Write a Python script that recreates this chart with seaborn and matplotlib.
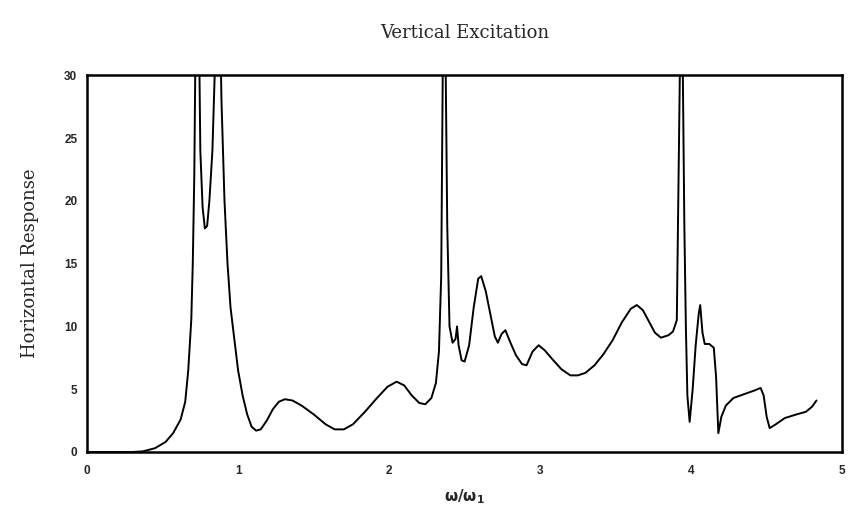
import numpy as np
import pandas as pd
import seaborn as sns
import matplotlib.pyplot as plt

# frequency ratio (omega / omega_1)
freq_ratio = [
    0.00, 0.30, 0.37, 0.45, 0.52, 0.57, 0.62, 0.65, 0.67, 0.69,
    0.70, 0.71, 0.72, 0.735, 0.75, 0.765, 0.78, 0.795, 0.81, 0.83,
    0.845, 0.86, 0.88, 0.89, 0.91, 0.93, 0.95, 0.97, 1.00, 1.03,
    1.06, 1.09, 1.12, 1.15, 1.19, 1.23, 1.27, 1.31, 1.36, 1.42,
    1.50, 1.58, 1.64, 1.70, 1.76, 1.84, 1.92, 1.99, 2.05, 2.10,
    2.15, 2.20, 2.24, 2.28, 2.31, 2.33, 2.345, 2.355, 2.365, 2.375,
    2.385, 2.40, 2.42, 2.44, 2.45, 2.46, 2.48, 2.50, 2.53, 2.56,
    2.59, 2.61, 2.64, 2.67, 2.70, 2.72, 2.745, 2.77, 2.80, 2.84,
    2.88, 2.91, 2.95, 2.99, 3.03, 3.08, 3.14, 3.20, 3.25, 3.30,
    3.36, 3.42, 3.48, 3.54, 3.60, 3.64, 3.68, 3.72, 3.76, 3.80,
    3.85, 3.88, 3.905, 3.915, 3.925, 3.935, 3.945, 3.955, 3.965, 3.975,
    3.99, 4.01, 4.03, 4.05, 4.06, 4.075, 4.09, 4.12, 4.15, 4.165,
    4.18, 4.20, 4.23, 4.28, 4.35, 4.42, 4.46, 4.48, 4.50, 4.52,
    4.56, 4.62, 4.70, 4.76, 4.80, 4.83,
]

# horizontal response amplitude (peaks run off the top of the axes)
response = [
    0.0, 0.0, 0.05, 0.3, 0.8, 1.5, 2.6, 4.0, 6.5, 10.5,
    15.0, 22.0, 35.0, 40.0, 24.0, 19.5, 17.8, 18.0, 20.0, 24.0,
    30.0, 40.0, 35.0, 28.0, 20.0, 15.0, 11.5, 9.5, 6.5, 4.5,
    3.0, 2.0, 1.7, 1.8, 2.5, 3.4, 4.0, 4.2, 4.1, 3.7,
    3.0, 2.2, 1.8, 1.8, 2.2, 3.2, 4.3, 5.2, 5.6, 5.3,
    4.5, 3.9, 3.8, 4.3, 5.5, 8.0, 14.0, 30.0, 40.0, 30.0,
    18.0, 10.0, 8.7, 9.0, 10.0, 8.5, 7.3, 7.2, 8.5, 11.5,
    13.8, 14.0, 12.8, 11.0, 9.2, 8.7, 9.4, 9.7, 8.8, 7.7,
    7.0, 6.9, 8.0, 8.5, 8.1, 7.4, 6.6, 6.1, 6.1, 6.3,
    6.9, 7.8, 8.9, 10.3, 11.4, 11.7, 11.3, 10.4, 9.5, 9.1,
    9.3, 9.6, 10.5, 20.0, 30.0, 40.0, 30.0, 18.0, 10.0, 4.5,
    2.4, 5.0, 8.5, 11.0, 11.7, 9.5, 8.6, 8.6, 8.3, 6.0,
    1.5, 2.8, 3.7, 4.3, 4.6, 4.9, 5.1, 4.5, 2.8, 1.9,
    2.2, 2.7, 3.0, 3.2, 3.6, 4.1,
]

x_ticks = [0, 1, 2, 3, 4, 5]
y_ticks = [0, 5, 10, 15, 20, 25, 30]

df = pd.DataFrame({"ratio": freq_ratio, "resp": response})

sns.set_theme(style="white")

fig = plt.figure(figsize=(8.62, 5.05), dpi=100)
ax = fig.add_axes([0.101, 0.105, 0.876, 0.746])

sns.lineplot(data=df, x="ratio", y="resp", color="black", linewidth=1.4,
             sort=False, ax=ax)

ax.set_xlim(0, 5)
ax.set_ylim(0, 30)
ax.set_xticks(x_ticks)
ax.set_yticks(y_ticks)
for lab in ax.get_xticklabels() + ax.get_yticklabels():
    lab.set_fontfamily("Liberation Sans")
    lab.set_fontweight("bold")
    lab.set_fontsize(8.5)
ax.tick_params(axis="y", direction="out", length=4, width=1.2, color="black", pad=3)
ax.tick_params(axis="x", direction="inout", length=5, width=1.2, color="black", pad=7)

for side in ax.spines.values():
    side.set_color("black")
    side.set_linewidth(1.8)

ax.set_title("Vertical Excitation", family="DejaVu Serif", fontsize=13, pad=27)
ax.set_ylabel("Horizontal Response", family="DejaVu Serif", fontsize=13, labelpad=18)
ax.set_xlabel(r"$\mathbf{\omega/\omega_1}$", fontsize=11, labelpad=7)

fig.savefig("out.png", dpi=100)
